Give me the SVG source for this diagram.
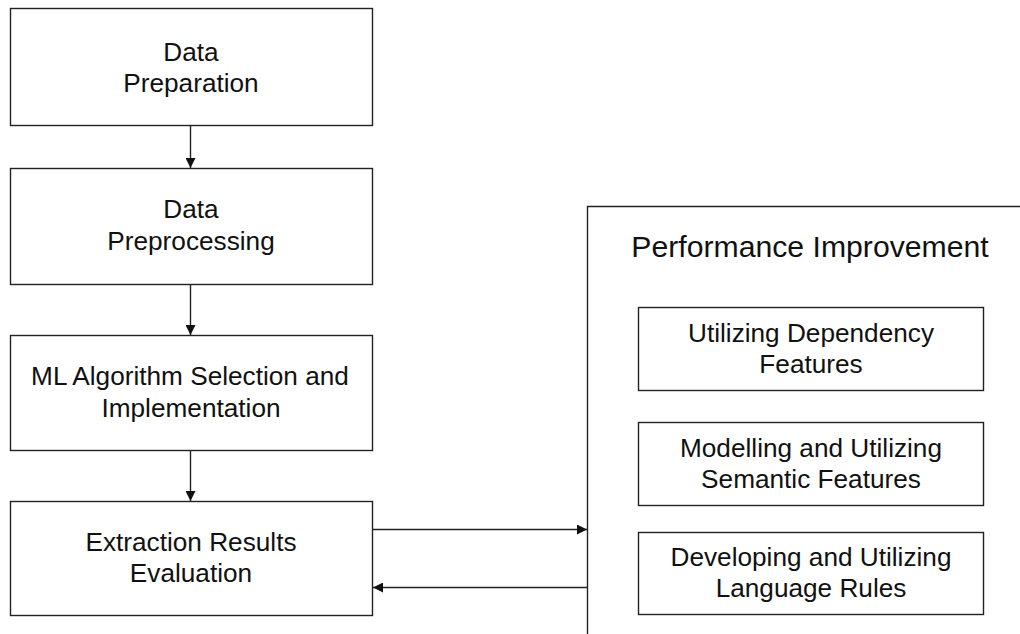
<svg xmlns="http://www.w3.org/2000/svg" width="1020" height="634" viewBox="0 0 1020 634">
  <style>
    .box { fill: #fff; stroke: #222; stroke-width: 1.4; }
    .lbl { font-family: "Liberation Sans", Arial, sans-serif; font-size: 26.2px; fill: #111; text-anchor: middle; }
    .title { font-family: "Liberation Sans", Arial, sans-serif; font-size: 30.2px; fill: #111; text-anchor: middle; }
    .edge { fill: none; stroke: #222; stroke-width: 1.4; }
  </style>
  <defs>
    <marker id="arrow" viewBox="0 0 10 10" refX="10" refY="5" markerWidth="10" markerHeight="10" markerUnits="userSpaceOnUse" orient="auto">
      <path d="M0,0 L10,5 L0,10 z" fill="#111"/>
    </marker>
  </defs>
  <rect width="1020" height="634" fill="#fff"/>

  <g id="data-preparation">
    <rect class="box" x="10.5" y="8.5" width="362" height="117"/>
    <text class="lbl" x="191" y="61">Data</text>
    <text class="lbl" x="191" y="92">Preparation</text>
  </g>

  <g id="data-preprocessing">
    <rect class="box" x="10.5" y="168.5" width="362" height="116"/>
    <text class="lbl" x="191" y="218">Data</text>
    <text class="lbl" x="191" y="250">Preprocessing</text>
  </g>

  <g id="ml-algorithm">
    <rect class="box" x="10.5" y="335.5" width="362" height="115"/>
    <text class="lbl" x="190" y="385">ML Algorithm Selection and</text>
    <text class="lbl" x="191" y="417">Implementation</text>
  </g>

  <g id="extraction-evaluation">
    <rect class="box" x="10.5" y="501.5" width="362" height="114"/>
    <text class="lbl" x="191" y="551">Extraction Results</text>
    <text class="lbl" x="191" y="582">Evaluation</text>
  </g>

  <g id="performance-improvement">
    <path class="edge" d="M587.5,634 V206.5 H1020"/>
    <text class="title" x="810" y="257">Performance Improvement</text>
  </g>

  <g id="dependency-features">
    <rect class="box" x="638.5" y="307.5" width="345" height="83"/>
    <text class="lbl" x="811" y="342">Utilizing Dependency</text>
    <text class="lbl" x="811" y="373">Features</text>
  </g>

  <g id="semantic-features">
    <rect class="box" x="638.5" y="422.5" width="345" height="83"/>
    <text class="lbl" x="811" y="457">Modelling and Utilizing</text>
    <text class="lbl" x="811" y="488">Semantic Features</text>
  </g>

  <g id="language-rules">
    <rect class="box" x="638.5" y="532.5" width="345" height="82"/>
    <text class="lbl" x="811" y="566">Developing and Utilizing</text>
    <text class="lbl" x="811" y="597">Language Rules</text>
  </g>

  <g id="connectors">
    <line class="edge" x1="190.5" y1="126" x2="190.5" y2="168" marker-end="url(#arrow)"/>
    <line class="edge" x1="190.5" y1="285" x2="190.5" y2="335" marker-end="url(#arrow)"/>
    <line class="edge" x1="190.5" y1="451" x2="190.5" y2="501" marker-end="url(#arrow)"/>
    <line class="edge" x1="373" y1="529.5" x2="587" y2="529.5" marker-end="url(#arrow)"/>
    <line class="edge" x1="587" y1="587.5" x2="373" y2="587.5" marker-end="url(#arrow)"/>
  </g>
</svg>
